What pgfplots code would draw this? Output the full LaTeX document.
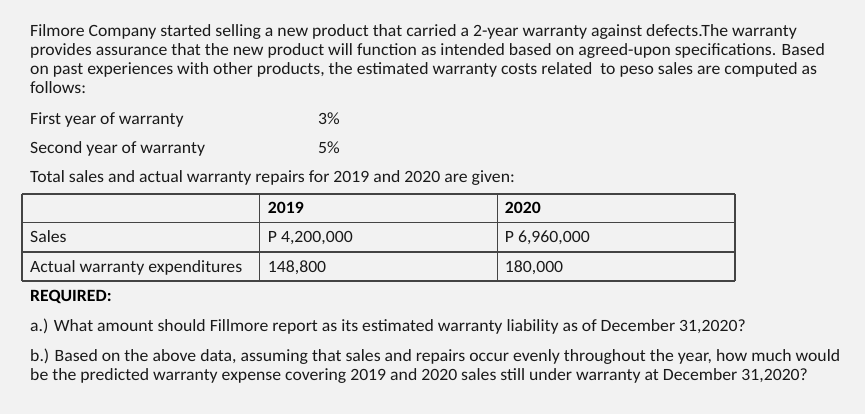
\documentclass[border=0pt]{standalone}
\usepackage{pgfplots}
\pgfplotsset{compat=1.18}
\usepackage{fontspec}
\setmainfont[FakeStretch=1.03]{Carlito}
\definecolor{bg}{HTML}{F2F2F2}
\definecolor{ink}{HTML}{1A1A1A}
\definecolor{rule}{HTML}{444444}
\begin{document}
\begin{tikzpicture}
\begin{axis}[
  width=865pt, height=414pt, scale only axis,
  xmin=0, xmax=865, ymin=0, ymax=414, y dir=reverse,
  hide axis, clip=false,
]
% background
\addplot[fill=bg, draw=none] coordinates {(0,0) (865,0) (865,414) (0,414)} -- cycle;
% table rules
\pgfplotsinvokeforeach{194,222.7,252,281}{
  \addplot[rule, line width=1.2pt, no marks] coordinates {(22,#1) (735,#1)};
}
\pgfplotsinvokeforeach{22,259.3,497.7,735}{
  \addplot[rule, line width=1.2pt, no marks] coordinates {(#1,194) (#1,281)};
}
\tikzset{t/.style={anchor=base west, inner sep=0pt, text=ink, font=\fontsize{17.2}{20}\selectfont}}
\node[t] at (axis cs:30,37) {Filmore Company started selling a new product that carried a 2-year warranty against defects.The warranty};
\node[t] at (axis cs:30,56) {provides assurance that the new product will function as intended based on agreed-upon specifications. Based};
\node[t] at (axis cs:30,75) {on past experiences with other products, the estimated warranty costs related\ \ to peso sales are computed as};
\node[t] at (axis cs:30,94) {follows:};
\node[t] at (axis cs:30,125) {First year of warranty};
\node[t] at (axis cs:318,125) {3\%};
\node[t] at (axis cs:30,154) {Second year of warranty};
\node[t] at (axis cs:318,154) {5\%};
\node[t] at (axis cs:30,183) {Total sales and actual warranty repairs for 2019 and 2020 are given:};
\node[t, text=black, font=\fontsize{17.2}{20}\selectfont\bfseries] at (axis cs:267.7,213.3) {2019};
\node[t, text=black, font=\fontsize{17.2}{20}\selectfont\bfseries] at (axis cs:504.7,213.3) {2020};
\node[t] at (axis cs:30,242.7) {Sales};
\node[t] at (axis cs:267.7,242.7) {P 4,200,000};
\node[t] at (axis cs:504.7,242.7) {P 6,960,000};
\node[t] at (axis cs:30,272.7) {Actual warranty expenditures};
\node[t] at (axis cs:267.7,272.7) {148,800};
\node[t] at (axis cs:504.7,272.7) {180,000};
\node[t, text=black, font=\fontsize{17.2}{20}\selectfont\bfseries] at (axis cs:30,301.7) {REQUIRED:};
\node[t] at (axis cs:30,331.7) {a.) What amount should Fillmore report as its estimated warranty liability as of December 31,2020?};
\node[t] at (axis cs:30,361) {b.) Based on the above data, assuming that sales and repairs occur evenly throughout the year, how much would};
\node[t] at (axis cs:30,380) {be the predicted warranty expense covering 2019 and 2020 sales still under warranty at December 31,2020?};
\end{axis}
\end{tikzpicture}
\end{document}
